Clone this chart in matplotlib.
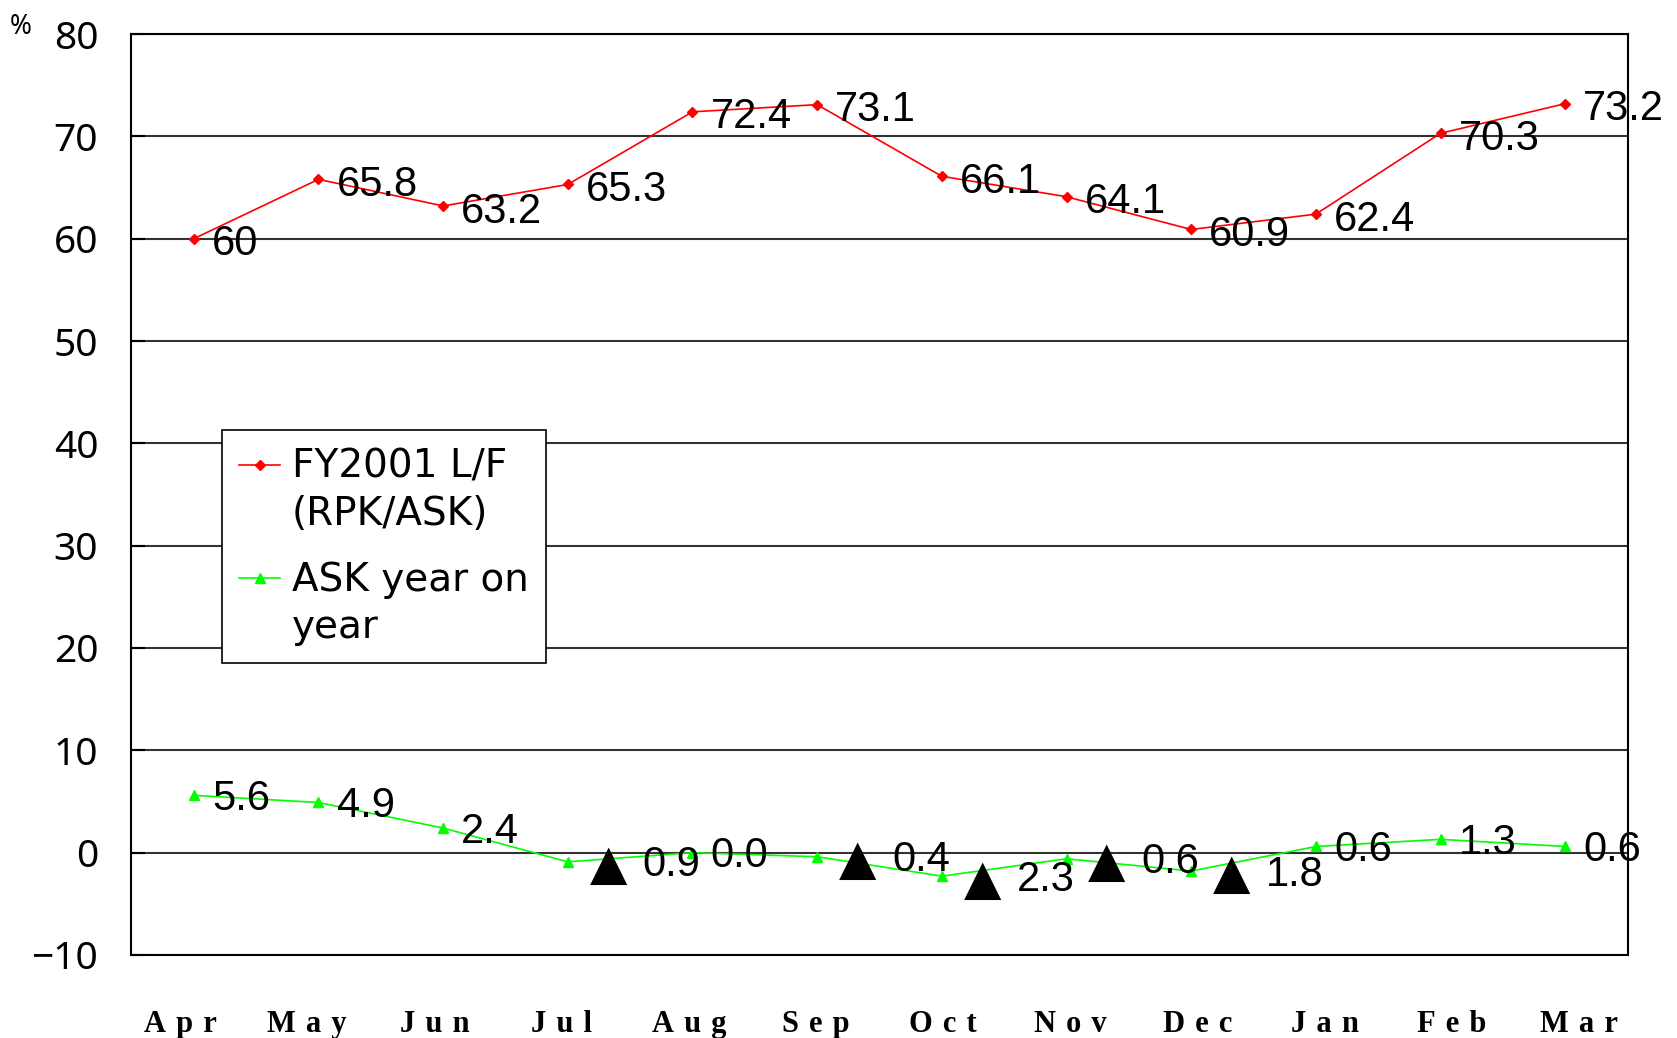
import matplotlib
matplotlib.use("Agg")
import matplotlib.pyplot as plt
import numpy as np

months = ["Apr", "May", "Jun", "Jul", "Aug", "Sep", "Oct", "Nov", "Dec", "Jan", "Feb", "Mar"]
load_factor = [60, 65.8, 63.2, 65.3, 72.4, 73.1, 66.1, 64.1, 60.9, 62.4, 70.3, 73.2]
ask_yoy = [5.6, 4.9, 2.4, -0.9, 0.0, -0.4, -2.3, -0.6, -1.8, 0.6, 1.3, 0.6]
yticks = [-10, 0, 10, 20, 30, 40, 50, 60, 70, 80]

label_fam = ["Liberation Sans", "DejaVu Sans"]

fig = plt.figure(figsize=(16.77, 10.38), dpi=100)
ax = fig.add_axes([0.0784, 0.08, 0.8921, 0.8872])

x = list(range(len(months)))
ax.plot(x, load_factor, color="#ff0000", lw=1.2, marker="D", ms=5.5,
        label="FY2001 L/F\n(RPK/ASK)", zorder=3)
ax.plot(x, ask_yoy, color="#00ff00", lw=1.2, marker="^", ms=7,
        label="ASK year on\nyear", zorder=3)

# value labels
for xi, v in zip(x, load_factor):
    ax.annotate("%g" % v, (xi, v), xytext=(13, -4), textcoords="offset points",
                ha="left", va="center", fontsize=30, family=label_fam, zorder=4)
for xi, v in zip(x, ask_yoy):
    if v < 0:
        # Japanese style negative: big black triangle before the number
        ax.annotate("\u25b2", (xi, v), xytext=(29, -12.5), textcoords="offset points",
                    ha="center", va="baseline", fontsize=35, family="DejaVu Sans", zorder=4)
        ax.annotate("%.1f" % abs(v), (xi, v), xytext=(54, -2.5), textcoords="offset points",
                    ha="left", va="center", fontsize=30, family=label_fam, zorder=4)
    else:
        ax.annotate("%.1f" % v, (xi, v), xytext=(13, -2.5), textcoords="offset points",
                    ha="left", va="center", fontsize=30, family=label_fam, zorder=4)

ax.set_xlim(-0.5, 11.5)
ax.set_ylim(-10, 80)
ax.set_yticks(yticks)
ax.set_yticklabels(["\u221210" if t < 0 else str(t) for t in yticks],
                   fontsize=28, family="Noto Sans")
ax.set_xticks(x)
ax.set_xticklabels([])
ax.tick_params(axis="x", length=0)
ax.tick_params(axis="y", direction="in", length=10, width=1.5, pad=24)

# month labels: spread slightly wider than the categories, letter-spaced
label_pos = np.linspace(0.0324, 0.9676, len(months))
for px, m in zip(label_pos, months):
    ax.text(px, -0.075, "\u2004".join(m), transform=ax.transAxes,
            ha="center", va="center", fontsize=22,
            family=["Liberation Serif", "DejaVu Serif"], fontweight="bold")

ax.yaxis.grid(True, color="#333333", lw=1.5)
ax.set_axisbelow(True)
for sp in ax.spines.values():
    sp.set_color("black")
    sp.set_linewidth(1.5)

fig.text(0.0125, 0.974, "%", fontsize=19, family="Noto Sans", va="center", ha="center")

leg = ax.legend(loc="upper left", bbox_to_anchor=(0.0605, 0.57), frameon=True,
                fancybox=False, edgecolor="black", framealpha=1,
                prop={"family": "DejaVu Sans", "size": 28},
                handlelength=1.05, handletextpad=0.3, borderpad=0.45,
                labelspacing=0.72, borderaxespad=0)
leg.get_frame().set_linewidth(1.2)
for t in leg.get_texts():
    t.set_linespacing(1.3)
# put the handles level with the first line of each label
for ln in leg.get_lines():
    ln.set_ydata([y + 19 for y in ln.get_ydata()])

fig.savefig("out.png", dpi=100)
